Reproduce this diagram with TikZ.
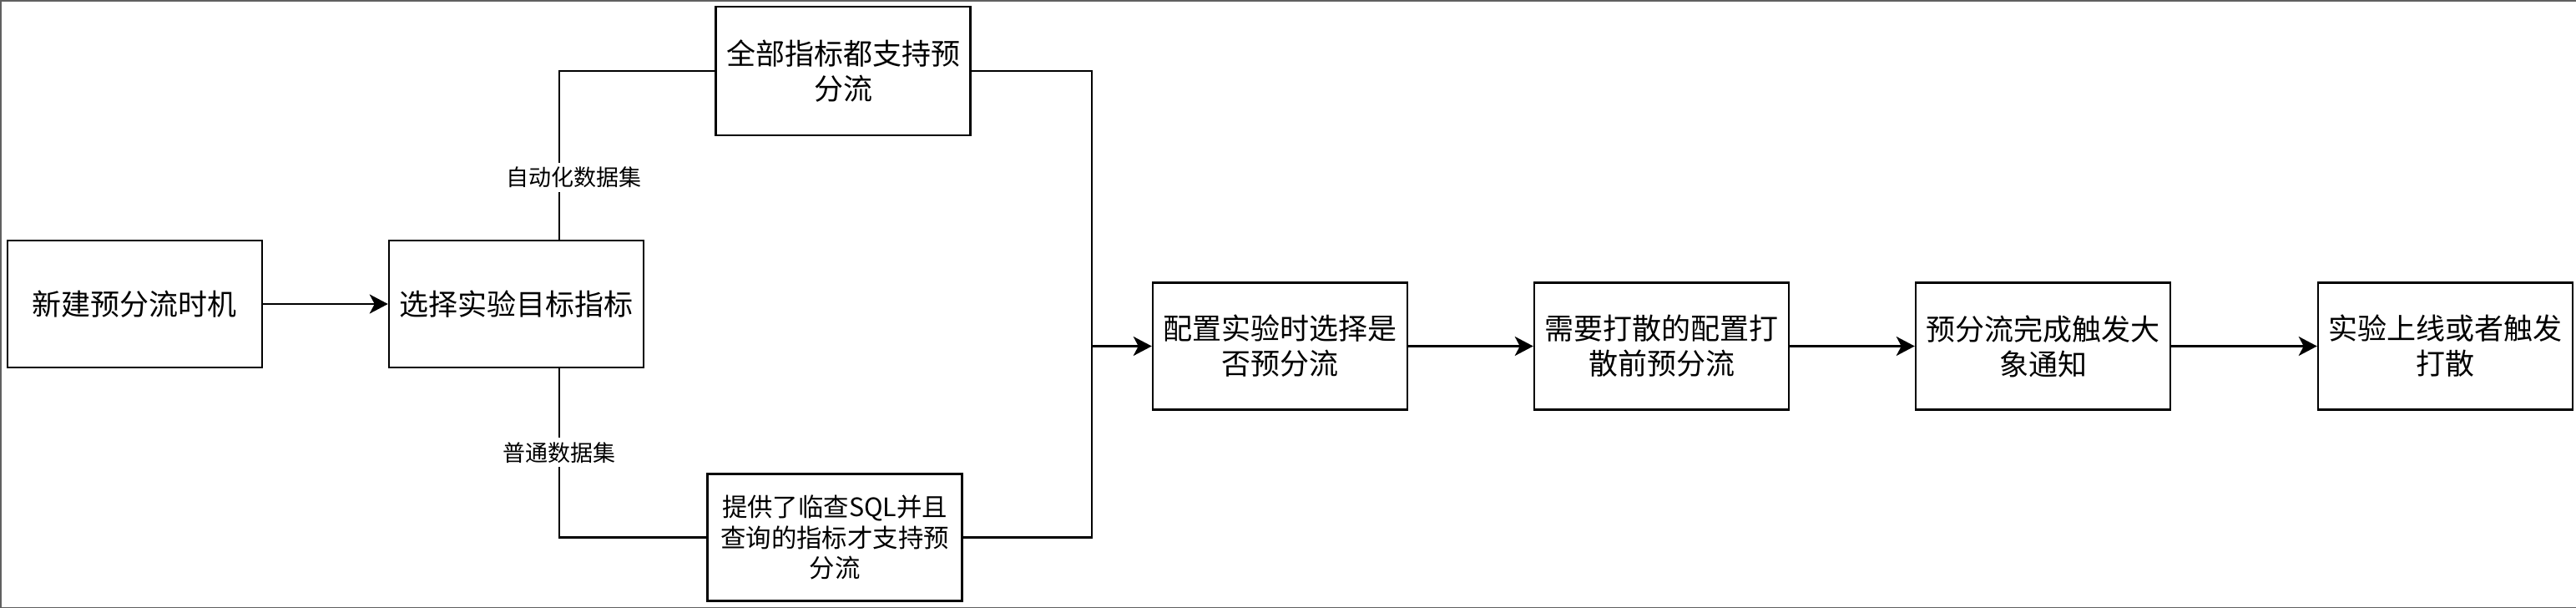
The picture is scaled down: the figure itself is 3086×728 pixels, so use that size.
\documentclass[tikz,border=0pt]{standalone}
\usepackage{fontspec}
\setmainfont{Noto Sans CJK SC}
\usetikzlibrary{arrows.meta}
\definecolor{edgegray}{HTML}{606060}
\tikzset{
  box/.style={draw=black, line width=1.25pt, minimum width=152.5pt, minimum height=76pt,
    inner sep=0pt, align=center, font=\fontsize{17.5}{21}\selectfont},
  conn/.style={draw=black, line width=1.25pt},
  arr/.style={conn, -{Stealth[length=11pt,width=11.5pt,inset=3pt]}},
  elabel/.style={fill=white, inner sep=2.5pt, font=\fontsize{13.5}{16}\selectfont}
}
\begin{document}
\begin{tikzpicture}[x=0.5pt,y=-0.5pt]
\useasboundingbox (0,0) rectangle (3086,728);
% frame lines of the screenshot
\draw[edgegray, line width=1pt] (0,0.5) -- (3086,0.5);
\draw[edgegray, line width=1pt] (0,727.5) -- (3086,727.5);
\draw[edgegray, line width=1pt] (0.8,0) -- (0.8,728);

\node[box] (B1) at (161.5,364) {新建预分流时机};
\node[box] (B2) at (618.5,364) {选择实验目标指标};
\node[box, minimum height=77pt] (T) at (1010,85) {全部指标都支持预\\分流};
\node[box, font=\fontsize{15.2}{18.3}\selectfont] (Bo) at (1000,643.5) {提供了临查SQL并且\\查询的指标才支持预\\分流};
\node[box] (C) at (1533.5,414.5) {配置实验时选择是\\否预分流};
\node[box] (D) at (1990.5,414.5) {需要打散的配置打\\散前预分流};
\node[box] (E) at (2447.5,414.5) {预分流完成触发大\\象通知};
\node[box] (F) at (2929.5,414.5) {实验上线或者触发\\打散};

\coordinate (split) at (670,364);
\coordinate (merge) at (1308,414.5);

\draw[arr] (B1) -- (B2);
\draw[conn] (split |- B2.north) |- node[elabel, pos=0.184, xshift=8.5pt] {自动化数据集} (T.west);
\draw[conn] (split |- B2.south) |- node[elabel, pos=0.249] {普通数据集} (Bo.west);
\draw[conn] (T.east) -| (merge);
\draw[conn] (Bo.east) -| (merge);
\draw[arr] (merge) -- (C.west);
\draw[arr] (C) -- (D);
\draw[arr] (D) -- (E);
\draw[arr] (E) -- (F);
\end{tikzpicture}
\end{document}
